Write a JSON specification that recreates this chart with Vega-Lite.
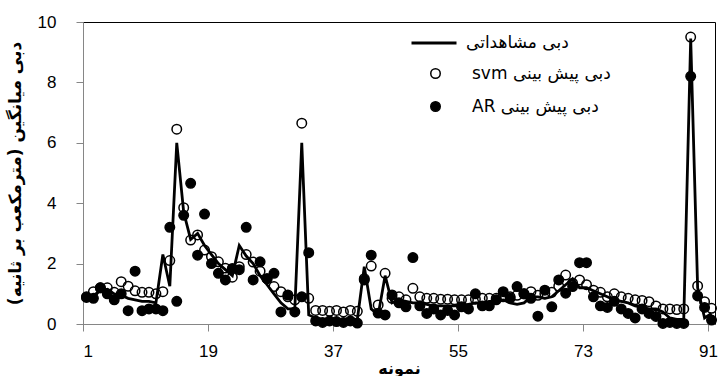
{
  "$schema": "https://vega.github.io/schema/vega-lite/v6.json",
  "width": 632,
  "height": 302,
  "autosize": {"type": "none"},
  "padding": {"left": 83, "top": 22, "right": 11, "bottom": 52},
  "background": "white",
  "config": {
    "view": {"stroke": "black", "strokeWidth": 1},
    "font": "Liberation Sans",
    "axis": {"grid": false, "domainColor": "#868686", "tickColor": "#868686", "labelColor": "black", "titleColor": "black", "labelFontSize": 17, "tickSize": 7}
  },
  "data": {
    "values": [
      {"x": 1, "obs": 0.9, "svm": 0.9, "ar": 0.88},
      {"x": 2, "obs": 0.95, "svm": 1.07, "ar": 0.85},
      {"x": 3, "obs": 1.1, "svm": 1.2, "ar": 1.2},
      {"x": 4, "obs": 1.15, "svm": 1.2, "ar": 1.0},
      {"x": 5, "obs": 1.0, "svm": 1.05, "ar": 0.8},
      {"x": 6, "obs": 0.95, "svm": 1.4, "ar": 1.0},
      {"x": 7, "obs": 0.85, "svm": 1.25, "ar": 0.44},
      {"x": 8, "obs": 0.8, "svm": 1.1, "ar": 1.75},
      {"x": 9, "obs": 0.75, "svm": 1.05, "ar": 0.44},
      {"x": 10, "obs": 0.75, "svm": 1.05, "ar": 0.5},
      {"x": 11, "obs": 0.7, "svm": 1.0, "ar": 0.5},
      {"x": 12, "obs": 2.3, "svm": 1.07, "ar": 0.44},
      {"x": 13, "obs": 1.25, "svm": 2.1, "ar": 3.2},
      {"x": 14, "obs": 6.0, "svm": 6.45, "ar": 0.75},
      {"x": 15, "obs": 3.7, "svm": 3.85, "ar": 3.6},
      {"x": 16, "obs": 2.8, "svm": 2.78, "ar": 4.66},
      {"x": 17, "obs": 3.0, "svm": 2.95, "ar": 2.28},
      {"x": 18, "obs": 2.6, "svm": 2.45, "ar": 3.64},
      {"x": 19, "obs": 2.3, "svm": 2.23, "ar": 2.0},
      {"x": 20, "obs": 2.0, "svm": 2.06, "ar": 1.68},
      {"x": 21, "obs": 1.8, "svm": 1.85, "ar": 1.46},
      {"x": 22, "obs": 1.6, "svm": 1.55, "ar": 1.84},
      {"x": 23, "obs": 2.6, "svm": 1.9, "ar": 1.8},
      {"x": 24, "obs": 2.25, "svm": 2.3, "ar": 3.2},
      {"x": 25, "obs": 2.0, "svm": 2.05, "ar": 1.46},
      {"x": 26, "obs": 1.6, "svm": 1.75, "ar": 2.06},
      {"x": 27, "obs": 1.3, "svm": 1.5, "ar": 1.5},
      {"x": 28, "obs": 1.0, "svm": 1.24, "ar": 1.68},
      {"x": 29, "obs": 0.7, "svm": 1.07, "ar": 0.4},
      {"x": 30, "obs": 0.5, "svm": 0.9, "ar": 0.96},
      {"x": 31, "obs": 0.5, "svm": 0.8, "ar": 0.4},
      {"x": 32, "obs": 6.0, "svm": 6.65, "ar": 0.9},
      {"x": 33, "obs": 0.3, "svm": 0.85, "ar": 2.36},
      {"x": 34, "obs": 0.2, "svm": 0.45, "ar": 0.1},
      {"x": 35, "obs": 0.15, "svm": 0.45, "ar": 0.05},
      {"x": 36, "obs": 0.15, "svm": 0.42, "ar": 0.1},
      {"x": 37, "obs": 0.1, "svm": 0.45, "ar": 0.08},
      {"x": 38, "obs": 0.15, "svm": 0.4, "ar": 0.05},
      {"x": 39, "obs": 0.1, "svm": 0.45, "ar": 0.1},
      {"x": 40, "obs": 0.15, "svm": 0.42, "ar": 0.03},
      {"x": 41, "obs": 1.9, "svm": 1.5, "ar": 1.46},
      {"x": 42, "obs": 0.5, "svm": 1.92, "ar": 2.28},
      {"x": 43, "obs": 0.3, "svm": 0.63, "ar": 0.36},
      {"x": 44, "obs": 1.6, "svm": 1.68, "ar": 0.3},
      {"x": 45, "obs": 0.7, "svm": 0.85, "ar": 0.96},
      {"x": 46, "obs": 0.8, "svm": 0.9, "ar": 0.7},
      {"x": 47, "obs": 0.75, "svm": 0.8, "ar": 0.57},
      {"x": 48, "obs": 0.7, "svm": 1.18, "ar": 2.2},
      {"x": 49, "obs": 0.7, "svm": 0.9, "ar": 0.6},
      {"x": 50, "obs": 0.65, "svm": 0.85, "ar": 0.35},
      {"x": 51, "obs": 0.6, "svm": 0.85, "ar": 0.5},
      {"x": 52, "obs": 0.6, "svm": 0.82, "ar": 0.3},
      {"x": 53, "obs": 0.6, "svm": 0.82, "ar": 0.45},
      {"x": 54, "obs": 0.6, "svm": 0.8, "ar": 0.3},
      {"x": 55, "obs": 0.6, "svm": 0.8, "ar": 0.57},
      {"x": 56, "obs": 0.65, "svm": 0.8, "ar": 0.5},
      {"x": 57, "obs": 0.7, "svm": 0.82, "ar": 1.0},
      {"x": 58, "obs": 0.7, "svm": 0.85, "ar": 0.6},
      {"x": 59, "obs": 0.75, "svm": 0.85, "ar": 0.6},
      {"x": 60, "obs": 0.75, "svm": 0.85, "ar": 0.8},
      {"x": 61, "obs": 0.8, "svm": 0.9, "ar": 1.07},
      {"x": 62, "obs": 0.7, "svm": 0.9, "ar": 0.85},
      {"x": 63, "obs": 0.65, "svm": 0.95, "ar": 1.24},
      {"x": 64, "obs": 0.7, "svm": 1.0, "ar": 1.0},
      {"x": 65, "obs": 0.9, "svm": 1.07, "ar": 0.85},
      {"x": 66, "obs": 0.9, "svm": 0.95, "ar": 0.26},
      {"x": 67, "obs": 0.85, "svm": 1.0, "ar": 1.12},
      {"x": 68, "obs": 0.9, "svm": 1.05, "ar": 0.57},
      {"x": 69, "obs": 1.1, "svm": 1.25, "ar": 1.46},
      {"x": 70, "obs": 1.3, "svm": 1.62, "ar": 1.02},
      {"x": 71, "obs": 1.5, "svm": 1.35, "ar": 1.24},
      {"x": 72, "obs": 1.2, "svm": 1.46, "ar": 2.03},
      {"x": 73, "obs": 1.2, "svm": 1.3, "ar": 2.03},
      {"x": 74, "obs": 1.1, "svm": 1.12, "ar": 0.9},
      {"x": 75, "obs": 1.0, "svm": 1.05, "ar": 0.6},
      {"x": 76, "obs": 0.9, "svm": 0.9, "ar": 0.55},
      {"x": 77, "obs": 0.8, "svm": 1.0, "ar": 0.75},
      {"x": 78, "obs": 0.75, "svm": 0.9, "ar": 0.5},
      {"x": 79, "obs": 0.7, "svm": 0.85, "ar": 0.35},
      {"x": 80, "obs": 0.6, "svm": 0.8, "ar": 0.2},
      {"x": 81, "obs": 0.55, "svm": 0.78, "ar": 0.5},
      {"x": 82, "obs": 0.5, "svm": 0.74, "ar": 0.35},
      {"x": 83, "obs": 0.5, "svm": 0.6, "ar": 0.25},
      {"x": 84, "obs": 0.4, "svm": 0.5, "ar": 0.02},
      {"x": 85, "obs": 0.2, "svm": 0.5, "ar": 0.05},
      {"x": 86, "obs": 0.15, "svm": 0.48, "ar": 0.02},
      {"x": 87, "obs": 0.15, "svm": 0.5, "ar": 0.02},
      {"x": 88, "obs": 9.45, "svm": 9.5, "ar": 8.2},
      {"x": 89, "obs": 1.2, "svm": 1.26, "ar": 0.93},
      {"x": 90, "obs": 0.2, "svm": 0.74, "ar": 0.55},
      {"x": 91, "obs": 0.35, "svm": 0.52, "ar": 0.13}
    ]
  },
  "layer": [
    {
      "mark": {"type": "line", "strokeWidth": 2.8},
      "encoding": {
        "x": {
          "field": "x", "type": "quantitative",
          "scale": {"domain": [0.5, 91.5], "nice": false, "zero": false},
          "axis": {
            "values": [0.5, 18.5, 36.5, 54.5, 72.5, 90.5],
            "labelExpr": "format(datum.value + 0.5, 'd')",
            "labelDx": 3.5,
            "labelPadding": 12,
            "title": "نمونه",
            "titleFont": "DejaVu Sans",
            "titleFontSize": 16,
            "titleFontWeight": "bold",
            "titleY": 44,
            "titleBaseline": "middle"
          }
        },
        "y": {
          "field": "obs", "type": "quantitative",
          "scale": {"domain": [0, 10], "nice": false},
          "axis": {
            "values": [0, 2, 4, 6, 8, 10],
            "labelPadding": 20,
            "title": "دبی میانگین (مترمکعب بر ثانیه)\u200f",
            "titleFont": "DejaVu Sans",
            "titleFontSize": 17,
            "titleFontWeight": "bold",
            "titleX": -68,
            "titleBaseline": "middle"
          }
        },
        "color": {
          "datum": "دبی مشاهداتی", "type": "nominal",
          "scale": {"range": ["black"]},
          "legend": {
            "title": null, "orient": "none", "legendX": 327, "legendY": -3,
            "symbolType": "stroke", "symbolSize": 2025, "symbolStrokeWidth": 3,
            "labelFont": "DejaVu Sans", "labelFontSize": 17, "labelOffset": 8, "padding": 0
          }
        }
      }
    },
    {
      "transform": [{"fold": ["svm", "ar"], "as": ["key", "val"]}],
      "mark": {"type": "point", "shape": "circle", "size": 90, "stroke": "black", "strokeWidth": 1.5, "filled": true, "opacity": 1},
      "encoding": {
        "x": {"field": "x", "type": "quantitative"},
        "y": {"field": "val", "type": "quantitative", "title": "دبی میانگین (مترمکعب بر ثانیه)\u200f"},
        "fill": {
          "field": "key", "type": "nominal",
          "scale": {"domain": ["svm", "ar"], "range": ["transparent", "black"]},
          "legend": {
            "title": null, "orient": "none", "legendX": 344, "legendY": 43,
            "symbolType": "circle", "symbolSize": 90, "symbolStrokeColor": "black", "symbolStrokeWidth": 1.5,
            "labelFont": "DejaVu Sans", "labelFontSize": 17, "labelOffset": 28, "rowPadding": 15, "padding": 0,
            "labelExpr": "datum.label == 'svm' ? 'svm دبی پیش بینی' : 'AR دبی پیش بینی'"
          }
        }
      }
    }
  ]
}
